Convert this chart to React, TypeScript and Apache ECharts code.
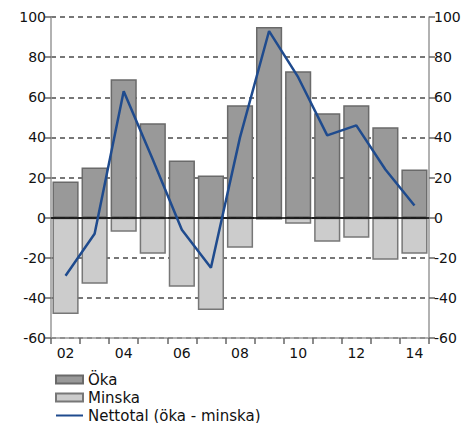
import React, { useEffect, useRef } from "react";
import * as echarts from "echarts";

const categories = ["02", "03", "04", "05", "06", "07", "08", "09", "10", "11", "12", "13", "14"];
const okaValues = [18, 25, 69, 47, 28.5, 21, 56, 95, 73, 52, 56, 45, 24];
const minskaValues = [-48, -33, -7, -18, -34.5, -46, -15, -1, -3, -12, -10, -21, -18];
const nettoValues = [-29, -8, 63, 29, -6, -25, 40, 93, 70, 41, 46, 24, 6];
const seriesNames = ["Öka", "Minska", "Nettotal (öka - minska)"];

const FONT = "DejaVu Sans";

export default function App() {
  const ref = useRef<HTMLDivElement>(null);
  useEffect(() => {
    const chart = echarts.init(ref.current!, null, { renderer: "svg" });
    const yAxisBase = {
      type: "value",
      min: -60,
      max: 100,
      interval: 20,
      axisLine: { show: true, lineStyle: { color: "#999", width: 1.5 } },
      axisTick: { show: true, length: 6, lineStyle: { color: "#666", width: 1.5 } },
      axisLabel: { color: "#111", fontSize: 14, fontFamily: FONT, margin: 5 },
    };
    chart.setOption({
      animation: false,
      grid: { left: 51, right: 42, top: 17, bottom: 85 },
      legend: {
        orient: "vertical",
        left: 55,
        top: 372,
        padding: 0,
        itemWidth: 27,
        itemHeight: 8,
        itemGap: 3,
        textStyle: { fontSize: 15, fontFamily: FONT, color: "#111", lineHeight: 15 },
        data: [
          { name: seriesNames[0], icon: "rect" },
          { name: seriesNames[1], icon: "rect" },
          { name: seriesNames[2], itemStyle: { opacity: 0 } },
        ],
      },
      xAxis: {
        type: "category",
        data: categories,
        axisLine: { onZero: false, lineStyle: { color: "#999", width: 1.5 } },
        axisTick: { show: true, interval: 0, length: 6, lineStyle: { color: "#666", width: 1.5 } },
        axisLabel: { interval: 1, color: "#111", fontSize: 14, fontFamily: FONT, margin: 8 },
      },
      yAxis: [
        {
          ...yAxisBase,
          position: "left",
          splitLine: { show: true, lineStyle: { color: "#777", width: 2, type: [5, 4] } },
        },
        {
          ...yAxisBase,
          position: "right",
          splitLine: { show: false },
        },
      ],
      series: [
        {
          name: seriesNames[0],
          type: "bar",
          data: okaValues,
          barGap: "-100%",
          barCategoryGap: "10%",
          itemStyle: { color: "#999999", borderColor: "#6a6a6a", borderWidth: 1.5 },
        },
        {
          name: seriesNames[1],
          type: "bar",
          data: minskaValues,
          barGap: "-100%",
          barCategoryGap: "10%",
          itemStyle: { color: "#cccccc", borderColor: "#777777", borderWidth: 1.5 },
        },
        {
          name: seriesNames[2],
          type: "line",
          data: nettoValues,
          symbol: "none",
          z: 5,
          lineStyle: { color: "#1f4b8e", width: 2.5 },
          itemStyle: { color: "#1f4b8e" },
          markLine: {
            silent: true,
            symbol: ["none", "none"],
            label: { show: false },
            lineStyle: { color: "#000", type: "solid", width: 1.5 },
            data: [{ yAxis: 0 }],
          },
        },
      ],
    });
    return () => chart.dispose();
  }, []);
  return (
    <div
      ref={ref}
      style={{ position: "fixed", left: 0, top: 0, width: 471, height: 423, background: "#fff" }}
    />
  );
}
